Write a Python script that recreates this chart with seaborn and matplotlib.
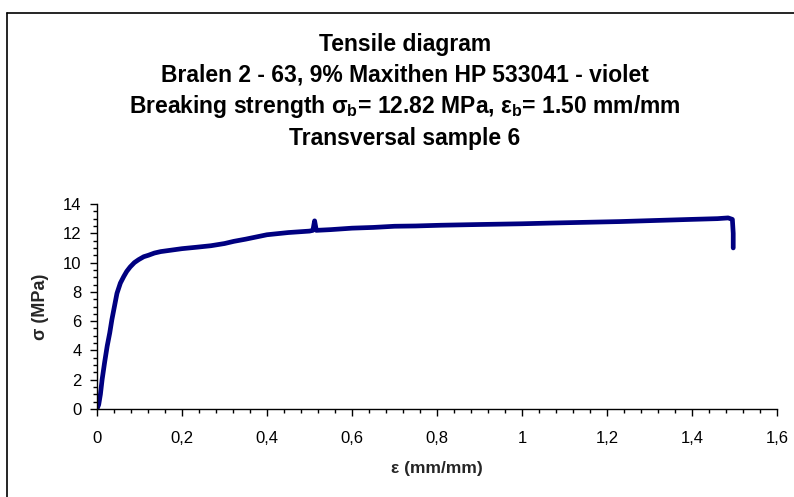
import numpy as np
import matplotlib
matplotlib.use("Agg")
import matplotlib.pyplot as plt
from matplotlib.lines import Line2D
from matplotlib.ticker import MultipleLocator
import seaborn as sns

# ---------------------------------------------------------------------------
# data (strain mm/mm, stress MPa)
# ---------------------------------------------------------------------------
strain = [0.000, 0.004, 0.008, 0.012, 0.018, 0.024, 0.030, 0.035, 0.041, 0.047,
          0.055, 0.063, 0.070, 0.078, 0.088, 0.098, 0.110, 0.121, 0.135, 0.150,
          0.175, 0.200, 0.235, 0.268, 0.300, 0.322, 0.350, 0.375, 0.400, 0.450,
          0.500, 0.508, 0.512, 0.516, 0.550, 0.600, 0.650, 0.700, 0.750, 0.810,
          0.900, 1.000, 1.070, 1.150, 1.230, 1.320, 1.400, 1.460, 1.485, 1.495,
          1.497, 1.497]
stress = [0.00, 0.30, 1.00, 2.00, 3.20, 4.30, 5.20, 6.10, 7.00, 7.90,
          8.60, 9.05, 9.40, 9.70, 10.00, 10.20, 10.40, 10.50, 10.65, 10.75,
          10.85, 10.95, 11.05, 11.15, 11.30, 11.45, 11.60, 11.75, 11.90, 12.05,
          12.15, 12.20, 12.85, 12.20, 12.25, 12.35, 12.40, 12.48, 12.50, 12.55,
          12.60, 12.65, 12.70, 12.75, 12.80, 12.88, 12.95, 13.00, 13.05, 12.95,
          12.00, 11.00]

x_ticks = [0, 0.2, 0.4, 0.6, 0.8, 1.0, 1.2, 1.4, 1.6]
x_tick_labels = ["0", "0,2", "0,4", "0,6", "0,8", "1", "1,2", "1,4", "1,6"]
y_ticks = [0, 2, 4, 6, 8, 10, 12, 14]

title_lines = [
    "Tensile diagram",
    "Bralen 2 - 63, 9% Maxithen HP 533041 - violet",
    "Breaking strength σ$_\\mathregular{b}$= 12.82 MPa, ε$_\\mathregular{b}$= 1.50 mm/mm",
    "Transversal sample 6",
]

# ---------------------------------------------------------------------------
# style
# ---------------------------------------------------------------------------
sns.set_theme(style="white")
plt.rcParams["font.family"] = ["Liberation Sans", "DejaVu Sans"]

fig = plt.figure(figsize=(7.94, 4.97), dpi=100)
fig.patch.set_facecolor("white")
ax = fig.add_axes([97 / 794, 1 - 409 / 497, 680 / 794, 205 / 497])

sns.lineplot(x=strain, y=stress, ax=ax, color="#000080", linewidth=3.4,
             sort=False, estimator=None)

ax.set_xlim(0, 1.6)
ax.set_ylim(0, 14)
ax.set_xticks(x_ticks)
ax.set_xticklabels(x_tick_labels)
ax.set_yticks(y_ticks)
ax.xaxis.set_minor_locator(MultipleLocator(0.04))
ax.yaxis.set_minor_locator(MultipleLocator(0.5))

for side in ["top", "right"]:
    ax.spines[side].set_visible(False)
for side in ["left", "bottom"]:
    ax.spines[side].set_color("black")
    ax.spines[side].set_linewidth(1.0)

ax.tick_params(axis="both", which="major", direction="out", length=5,
               width=1, color="black", labelsize=12, labelcolor="black")
ax.tick_params(axis="both", which="minor", direction="out", length=3,
               width=1, color="black")
ax.tick_params(axis="x", which="major", pad=11)
ax.tick_params(axis="y", which="major", pad=6)
ax.tick_params(bottom=True, left=True, which="both")

ax.set_xlabel("ε (mm/mm)", fontsize=12.5, fontweight="bold", labelpad=11)
ax.set_ylabel("σ (MPa)", fontsize=13, fontweight="bold", labelpad=10)
ax.grid(False)

# title block, one line per text
title_y = [45, 75, 107, 138]
for line, yy in zip(title_lines, title_y):
    fig.text(405 / 794, 1 - yy / 497, line, ha="center", va="center",
             fontsize=16.5, fontweight="bold", color="black")

# outer chart frame (left and top edges visible)
fig.add_artist(Line2D([7 / 794, 7 / 794], [0, 1 - 13 / 497], color="black",
                      linewidth=1.2, transform=fig.transFigure))
fig.add_artist(Line2D([7 / 794, 1], [1 - 13 / 497, 1 - 13 / 497], color="black",
                      linewidth=1.2, transform=fig.transFigure))

plt.savefig("out.png", dpi=100)
